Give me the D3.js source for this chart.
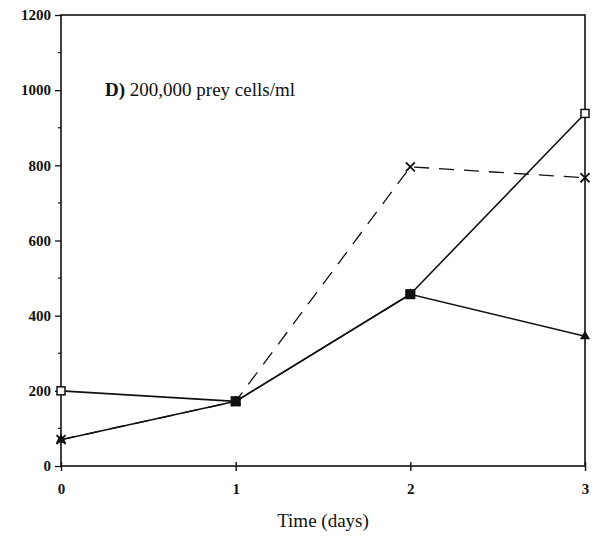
<!DOCTYPE html>
<html>
<head>
<meta charset="utf-8">
<script src="https://cdn.jsdelivr.net/npm/d3@7"></script>
<style>
  body { margin: 0; background: #fff; }
  text { font-family: "Liberation Serif", "DejaVu Serif", serif; fill: #111; }
</style>
</head>
<body>
<div id="chart"></div>
<script>
  // values
  const days = [0, 1, 2, 3];
  const openSquare = [200, 172, 457, 938];
  const filledTriangle = [70, 172, 457, 345];
  const crossDashed = [70, 172, 796, 767];
  const filledSquareDays = [1, 2];
  const filledSquareVals = [172, 457];
  const yTicks = [0, 200, 400, 600, 800, 1000, 1200];
  const yMinor = [100, 300, 500, 700, 900, 1100];

  const width = 605;
  const height = 537;
  const margin = { top: 15, left: 61, right: 20, bottom: 71 };
  const ink = "#111";

  const svg = d3
    .select("#chart")
    .append("svg")
    .attr("width", width)
    .attr("height", height);

  const x = d3
    .scaleLinear()
    .domain([0, 3])
    .range([margin.left, width - margin.right]);

  const y = d3
    .scaleLinear()
    .domain([0, 1200])
    .range([height - margin.bottom, margin.top]);

  // frame
  svg
    .append("rect")
    .attr("x", x(0))
    .attr("y", y(1200))
    .attr("width", x(3) - x(0))
    .attr("height", y(0) - y(1200))
    .attr("fill", "none")
    .attr("stroke", ink)
    .attr("stroke-width", 1.6);

  // y axis
  const yAxis = svg
    .append("g")
    .attr("transform", `translate(${x(0)},0)`)
    .call(d3.axisLeft(y).tickValues(yTicks).tickSize(6).tickPadding(4).tickFormat(d3.format("d")));
  yAxis.select(".domain").remove();
  yAxis.selectAll("line").attr("stroke", ink).attr("stroke-width", 1.3);
  yAxis
    .selectAll("text")
    .style("font-family", "Liberation Serif")
    .style("font-size", "15px")
    .style("font-weight", "bold")
    .attr("fill", ink);

  svg
    .append("g")
    .selectAll("line")
    .data(yMinor)
    .join("line")
    .attr("x1", x(0) - 3)
    .attr("x2", x(0))
    .attr("y1", d => y(d))
    .attr("y2", d => y(d))
    .attr("stroke", ink)
    .attr("stroke-width", 1.2);

  // x axis
  const xAxis = svg
    .append("g")
    .attr("transform", `translate(0,${y(0)})`)
    .call(d3.axisBottom(x).tickValues(days).tickSize(5).tickPadding(12).tickFormat(d3.format("d")));
  xAxis.select(".domain").remove();
  xAxis.selectAll("line").attr("stroke", ink).attr("stroke-width", 1.4).attr("y1", -4);
  xAxis
    .selectAll("text")
    .style("font-family", "Liberation Serif")
    .style("font-size", "15px")
    .style("font-weight", "bold")
    .attr("fill", ink);

  svg
    .append("text")
    .attr("x", (x(0) + x(3)) / 2)
    .attr("y", height - 10)
    .attr("text-anchor", "middle")
    .style("font-size", "19px")
    .text("Time (days)");

  const title = svg
    .append("text")
    .attr("x", x(0) + 44)
    .attr("y", y(1000) + 6)
    .style("font-size", "19px");
  title.append("tspan").attr("font-weight", "bold").text("D)");
  title.append("tspan").text(" 200,000 prey cells/ml");

  // lines
  const line = vals =>
    d3
      .line()
      .x((d, i) => x(days[i]))
      .y(d => y(d))(vals);

  svg
    .append("path")
    .attr("d", line(openSquare))
    .attr("fill", "none")
    .attr("stroke", ink)
    .attr("stroke-width", 1.6);

  svg
    .append("path")
    .attr("d", line(filledTriangle))
    .attr("fill", "none")
    .attr("stroke", ink)
    .attr("stroke-width", 1.5);

  svg
    .append("path")
    .attr("d", line(crossDashed))
    .attr("fill", "none")
    .attr("stroke", ink)
    .attr("stroke-width", 1.3)
    .attr("stroke-dasharray", "15,10");

  // markers
  svg
    .append("g")
    .selectAll("rect")
    .data(openSquare)
    .join("rect")
    .attr("x", (d, i) => x(days[i]) - 4)
    .attr("y", d => y(d) - 4)
    .attr("width", 8)
    .attr("height", 8)
    .attr("fill", "#fff")
    .attr("stroke", ink)
    .attr("stroke-width", 1.5);

  const tri = d3.symbol().type(d3.symbolTriangle).size(45);
  svg
    .append("g")
    .selectAll("path")
    .data(filledTriangle)
    .join("path")
    .attr("d", tri)
    .attr("transform", (d, i) => `translate(${x(days[i])},${y(d)})`)
    .attr("fill", ink);

  svg
    .append("g")
    .selectAll("rect")
    .data(filledSquareVals)
    .join("rect")
    .attr("x", (d, i) => x(filledSquareDays[i]) - 5)
    .attr("y", d => y(d) - 5)
    .attr("width", 10)
    .attr("height", 10)
    .attr("fill", ink);

  const cross = d3.symbol().type(d3.symbolX).size(55);
  svg
    .append("g")
    .selectAll("path")
    .data(crossDashed)
    .join("path")
    .attr("d", cross)
    .attr("transform", (d, i) => `translate(${x(days[i])},${y(d)})`)
    .attr("fill", "none")
    .attr("stroke", ink)
    .attr("stroke-width", 1.8);
</script>
</body>
</html>
